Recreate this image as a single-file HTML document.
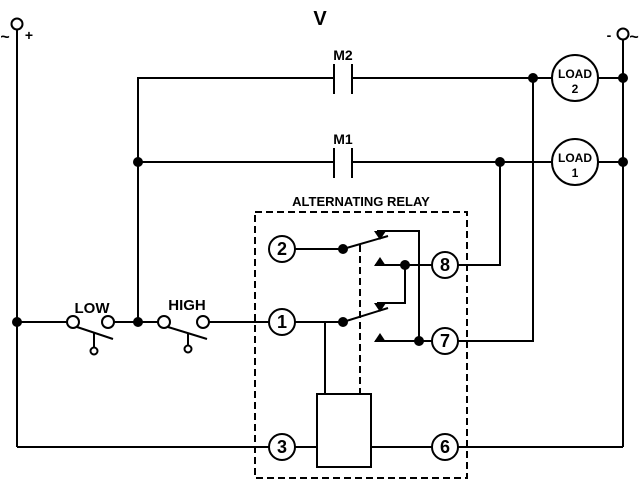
<!DOCTYPE html>
<html><head><style>body{margin:0;background:#fff}</style></head><body>
<svg width="640" height="480" xmlns="http://www.w3.org/2000/svg" font-family="Liberation Sans, Arial, sans-serif" font-weight="bold">
<g stroke="#000" stroke-width="2" fill="none">
<circle cx="17" cy="24" r="5.5"/>
<circle cx="623" cy="34" r="5.5"/>
<line x1="17" y1="30" x2="17" y2="447"/>
<line x1="623" y1="40" x2="623" y2="447"/>
<polyline points="138,322 138,78 334,78"/>
<line x1="352" y1="78" x2="552" y2="78"/>
<line x1="598" y1="78" x2="623" y2="78"/>
<line x1="334" y1="64" x2="334" y2="94"/><line x1="352" y1="64" x2="352" y2="94"/>
<line x1="138" y1="162" x2="334" y2="162"/>
<line x1="352" y1="162" x2="552" y2="162"/>
<line x1="598" y1="162" x2="623" y2="162"/>
<line x1="334" y1="148" x2="334" y2="178"/><line x1="352" y1="148" x2="352" y2="178"/>
<circle cx="575" cy="78" r="23"/><circle cx="575" cy="162" r="23"/>
<line x1="17" y1="322" x2="67" y2="322"/>
<circle cx="73" cy="322" r="6"/><circle cx="108" cy="322" r="6"/>
<line x1="114" y1="322" x2="158" y2="322"/>
<circle cx="164" cy="322" r="6"/><circle cx="203" cy="322" r="6"/>
<line x1="209" y1="322" x2="269" y2="322"/>
<line x1="77" y1="327" x2="113" y2="339"/><line x1="94" y1="333" x2="94" y2="348"/><circle cx="94" cy="351" r="3.5"/>
<line x1="168" y1="327" x2="207" y2="339"/><line x1="188" y1="333" x2="188" y2="346"/><circle cx="188" cy="349" r="3.5"/>
<rect x="255" y="212" width="212" height="266" stroke-dasharray="7,4"/>
<line x1="360" y1="245" x2="360" y2="394" stroke-dasharray="7,4"/>
<circle cx="282" cy="249" r="13"/><circle cx="282" cy="322" r="13"/>
<circle cx="282" cy="447" r="13"/><circle cx="445" cy="265" r="13"/>
<circle cx="445" cy="341" r="13"/><circle cx="445" cy="447" r="13"/>
<line x1="295" y1="249" x2="343" y2="249"/>
<line x1="343" y1="249" x2="388" y2="236"/>
<line x1="295" y1="322" x2="343" y2="322"/>
<line x1="343" y1="322" x2="388" y2="308"/>
<polyline points="377,231 419,231 419,341"/>
<line x1="375" y1="265" x2="432" y2="265"/>
<polyline points="405,265 405,303 377,303"/>
<line x1="375" y1="341" x2="432" y2="341"/>
<polyline points="458,265 500,265 500,162"/>
<polyline points="458,341 533,341 533,78"/>
<line x1="325" y1="322" x2="325" y2="394"/>
<rect x="317" y="394" width="54" height="73"/>
<line x1="17" y1="447" x2="269" y2="447"/>
<line x1="295" y1="447" x2="317" y2="447"/>
<line x1="371" y1="447" x2="432" y2="447"/>
<line x1="458" y1="447" x2="623" y2="447"/>
</g>
<g fill="#000">
<circle cx="138" cy="162" r="5"/><circle cx="138" cy="322" r="5"/><circle cx="17" cy="322" r="5"/>
<circle cx="533" cy="78" r="5"/><circle cx="623" cy="78" r="5"/>
<circle cx="500" cy="162" r="5"/><circle cx="623" cy="162" r="5"/>
<circle cx="343" cy="249" r="5"/><circle cx="343" cy="322" r="5"/>
<circle cx="405" cy="265" r="5"/><circle cx="419" cy="341" r="5"/>
<polygon points="374,231 386,231 380,240"/>
<polygon points="374,303 386,303 380,312"/>
<polygon points="374,266 386,266 380,257"/>
<polygon points="374,342 386,342 380,333"/>
</g>
<g fill="#000" text-anchor="middle">
<text x="320" y="25" font-size="20">V</text>
<text x="343" y="60" font-size="14">M2</text>
<text x="343" y="144" font-size="14">M1</text>
<text x="361" y="206" font-size="13">ALTERNATING RELAY</text>
<text x="92" y="313" font-size="15">LOW</text>
<text x="187" y="310" font-size="15">HIGH</text>
<text x="575" y="78" font-size="12">LOAD</text><text x="575" y="93" font-size="12">2</text>
<text x="575" y="162" font-size="12">LOAD</text><text x="575" y="177" font-size="12">1</text>
<g font-size="18"><text x="282" y="255">2</text><text x="282" y="328">1</text><text x="282" y="453">3</text>
<text x="445" y="271">8</text><text x="445" y="347">7</text><text x="445" y="453">6</text></g>
<text x="5" y="42" font-size="16">~</text><text x="29" y="40" font-size="14">+</text>
<text x="609" y="40" font-size="14">-</text><text x="634" y="42" font-size="16">~</text>
</g>
</svg>
</body></html>
